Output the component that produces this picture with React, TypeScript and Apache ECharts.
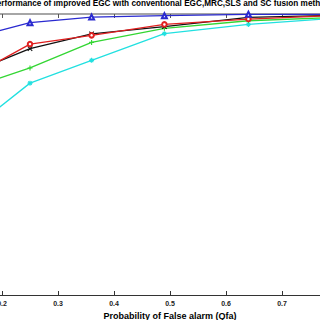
import React, { useEffect, useRef } from "react";
import * as echarts from "echarts";

const titleText = "Performance of improved EGC with conventional EGC,MRC,SLS and SC fusion methods";
const xAxisName = "Probability of False alarm (Qfa)";
const qfa = [0.16, 0.25, 0.36, 0.49, 0.64, 0.81];
const improvedEGC = [0.922, 0.969, 0.989, 0.994, 0.999, 0.999];
const egc = [0.794, 0.893, 0.924, 0.963, 0.982, 0.996];
const mrc = [0.804, 0.877, 0.929, 0.955, 0.988, 0.996];
const sls = [0.748, 0.808, 0.899, 0.949, 0.976, 0.989];
const sc = [0.612, 0.754, 0.835, 0.93, 0.963, 0.987];

const X_MIN = 0.1;
const X_MAX = 0.9;
const X_STEP = 0.1;

const PLUS = "path://M0,5L10,5M5,0L5,10";
const CROSS = "path://M0,0L10,10M10,0L0,10";
const STAR = "path://M5,0L5,10M0,5L10,5M1.5,1.5L8.5,8.5M8.5,1.5L1.5,8.5";

function mk(name: string, ys: number[], color: string, symbol: string, size: number, empty: boolean, z: number) {
  return {
    type: "line",
    name,
    data: qfa.map((x, i) => [x, ys[i]]),
    symbol,
    symbolSize: size,
    z,
    lineStyle: { color, width: 1.3 },
    itemStyle: empty
      ? { color, borderWidth: 1 }
      : { color, borderColor: color, borderWidth: 1.1 },
    emphasis: { disabled: true },
  };
}

export default function App() {
  const ref = useRef<HTMLDivElement>(null);
  useEffect(() => {
    if (!ref.current) return;
    const chart = echarts.init(ref.current, undefined, { renderer: "svg" });
    const axisCommon = {
      type: "value",
      min: X_MIN,
      max: X_MAX,
      interval: X_STEP,
      splitLine: { show: false },
    };
    chart.setOption({
      animation: false,
      backgroundColor: "#fff",
      grid: { left: 0, right: 0, top: 14, bottom: 25, outerBoundsMode: "none", containLabel: false },
      graphic: [
        {
          type: "text",
          x: 217,
          y: -1,
          style: {
            text: titleText,
            font: "bold 8.2px 'Liberation Sans', Arial, sans-serif",
            fill: "#000",
            textAlign: "center",
            textVerticalAlign: "top",
          },
        },
      ],
      xAxis: [
        {
          ...axisCommon,
          position: "bottom",
          name: xAxisName,
          nameLocation: "middle",
          nameGap: 8,
          nameTextStyle: { fontWeight: "bold", fontSize: 9, color: "#000", fontFamily: "'Liberation Sans', Arial, sans-serif" },
          axisLine: { lineStyle: { color: "#333", width: 1 } },
          axisTick: { inside: true, length: 4, lineStyle: { color: "#333" } },
          axisLabel: {
            fontWeight: "bold",
            fontSize: 7,
            color: "#222",
            margin: 5,
            fontFamily: "'Liberation Sans', Arial, sans-serif",
            formatter: (v: number) => v.toFixed(1),
          },
        },
        {
          ...axisCommon,
          position: "top",
          axisLine: { lineStyle: { color: "#888", width: 1.5 } },
          axisTick: { inside: true, length: 4, lineStyle: { color: "#555" } },
          axisLabel: { show: false },
        },
      ],
      yAxis: {
        type: "value",
        min: 0,
        max: 1,
        axisLine: { show: false },
        axisTick: { show: false },
        axisLabel: { show: false },
        splitLine: { show: false },
      },
      series: [
        mk("SC", sc, "#22e0e0", STAR, 5, false, 2),
        mk("SLS", sls, "#33d633", PLUS, 5, false, 3),
        mk("MRC", mrc, "#111111", CROSS, 4.5, false, 4),
        mk("EGC", egc, "#e02020", "emptyCircle", 4.5, true, 5),
        mk("Improved EGC", improvedEGC, "#2a2ad0", "emptyTriangle", 5, true, 6),
      ],
    });
    return () => chart.dispose();
  }, []);
  return (
    <div
      ref={ref}
      style={{ position: "fixed", left: -54, top: 0, width: 448, height: 320 }}
    />
  );
}
